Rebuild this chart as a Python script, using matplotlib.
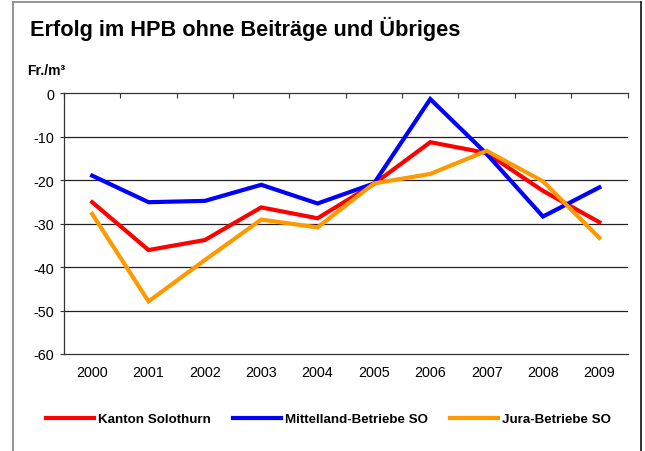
import matplotlib
matplotlib.use("Agg")
import matplotlib.pyplot as plt
from matplotlib.lines import Line2D

plt.rcParams['font.family'] = ['Liberation Sans', 'DejaVu Sans']

years = ["2000", "2001", "2002", "2003", "2004", "2005", "2006", "2007", "2008", "2009"]
kanton = [-25.1, -36.1, -33.8, -26.3, -28.8, -20.9, -11.3, -13.8, -22.5, -29.7]
mittelland = [-19.0, -25.1, -24.8, -21.1, -25.4, -20.8, -1.4, -14.0, -28.4, -21.7]
jura = [-27.8, -47.9, -38.4, -29.1, -30.9, -20.8, -18.6, -13.3, -20.3, -33.3]
series_names = ["Kanton Solothurn", "Mittelland-Betriebe SO", "Jura-Betriebe SO"]
colors = ["#FF0000", "#0000FF", "#FF9900"]
yticks = [0, -10, -20, -30, -40, -50, -60]

W, H = 645, 452
fig = plt.figure(figsize=(W / 100, H / 100), dpi=100)
fig.patch.set_facecolor("white")

# outer frame (left/top grey, right dark), open at the bottom
fig.add_artist(Line2D([12.5 / W, 12.5 / W], [0, 1 - 2.5 / H], transform=fig.transFigure,
                      color="#8a8a8a", linewidth=1.3))
fig.add_artist(Line2D([12.5 / W, 640.5 / W], [1 - 2.5 / H, 1 - 2.5 / H], transform=fig.transFigure,
                      color="#8a8a8a", linewidth=1.3))
fig.add_artist(Line2D([640.5 / W, 640.5 / W], [0, 1 - 2.5 / H], transform=fig.transFigure,
                      color="#222222", linewidth=1.3))

ax = fig.add_axes([64 / W, 1 - 355 / H, (627.5 - 64) / W, (355 - 94) / H])
x = list(range(len(years)))
for vals, c in zip([kanton, mittelland, jura], colors):
    ax.plot(x, vals, color=c, linewidth=3.0, solid_joinstyle="miter", zorder=3)

ax.set_xlim(-0.5, len(years) - 0.5)
ax.set_ylim(-60, 0)
ax.set_yticks(yticks)
ax.set_yticklabels([str(v) for v in yticks], fontsize=10.4)
ax.set_xticks(x)
ax.set_xticklabels(years, fontsize=10.4)
ax.tick_params(axis='x', which='major', length=0, pad=8)
ax.set_xticks([i - 0.5 for i in range(len(years) + 1)], minor=True)
ax.tick_params(axis='x', which='minor', bottom=False, top=True, direction='in',
               length=3.5, width=0.8, color="#333333")
ax.tick_params(axis='y', length=3, width=0.8, color="#333333", pad=4)
for v in yticks[1:-1]:
    ax.axhline(v, color="#222222", linewidth=0.9, zorder=1)
ax.spines["right"].set_visible(False)
for s in ["top", "bottom", "left"]:
    ax.spines[s].set_color("#333333")
    ax.spines[s].set_linewidth(0.9)

fig.text(30 / W, 1 - 29 / H, "Erfolg im HPB ohne Beiträge und Übriges",
         fontsize=15.7, fontweight="bold", va="center", ha="left")
fig.text(27 / W, 1 - 71 / H, "Fr./m³", fontsize=10, fontweight="bold",
         va="center", ha="left")

handles = [Line2D([0], [0], color=c, linewidth=3.0) for c in colors]
fig.legend(handles, series_names, loc="center", bbox_to_anchor=(328.5 / W, 1 - 420 / H),
           ncol=3, frameon=False, prop={'weight': 'bold', 'size': 9.6},
           handlelength=3.6, handletextpad=0.35, columnspacing=1.6,
           borderpad=0, borderaxespad=0)

fig.savefig("out.png", dpi=100)
